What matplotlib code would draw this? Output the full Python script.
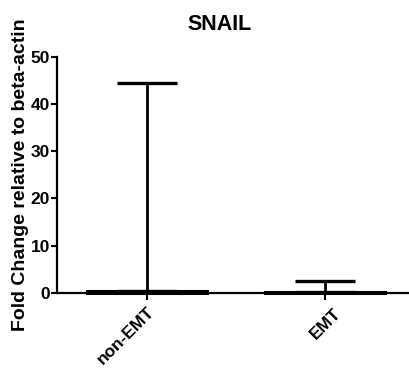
import numpy as np
import matplotlib
matplotlib.use("Agg")
import matplotlib.pyplot as plt
import matplotlib.transforms as mtransforms

plt.rcParams['font.family'] = ['Liberation Sans', 'DejaVu Sans']
plt.rcParams['font.weight'] = 'bold'

# dane
groups = ['non-EMT', 'EMT']
means = [0.3, 0.1]
sem = [44.2, 2.5]
y_ticks = [0, 10, 20, 30, 40, 50]

fig = plt.figure(figsize=(4.09, 3.76), dpi=100)
ax = fig.add_axes([0.139, 0.221, 0.861, 0.628])

x = np.arange(len(groups))
ax.bar(x, means, width=0.674, color='white', edgecolor='black',
       linewidth=2.2, clip_on=False, zorder=2)
ax.errorbar(x, means, yerr=[np.zeros(len(sem)), sem], fmt='none',
            ecolor='black', elinewidth=2, capsize=21.5, capthick=2.4,
            clip_on=False, zorder=3)

ax.set_xlim(-0.506, 1.472)
ax.set_ylim(0, 50)
ax.set_yticks(y_ticks)
ax.set_xticks(x)
ax.set_xticklabels(groups, rotation=45, ha='right', rotation_mode='anchor',
                   fontsize=12.5, fontweight='bold')
ax.tick_params(axis='y', labelsize=12.5, width=1.5, length=4, pad=1)
ax.tick_params(axis='x', width=1.5, length=5, pad=3)

# przesunięcie etykiety EMT lekko w prawo (jak w Prism)
lbl = ax.get_xticklabels()[1]
lbl.set_transform(lbl.get_transform() +
                  mtransforms.ScaledTranslation(8 / 100, -2 / 100, fig.dpi_scale_trans))

for s in ['top', 'right']:
    ax.spines[s].set_visible(False)
for s in ['left', 'bottom']:
    ax.spines[s].set_linewidth(1.6)

ax.set_ylabel('Fold Change relative to beta-actin', fontsize=14,
              fontweight='bold', labelpad=1)
ax.set_title('SNAIL', fontsize=15.5, fontweight='bold', pad=19.5, x=0.463)

fig.savefig('out.png', dpi=100)
